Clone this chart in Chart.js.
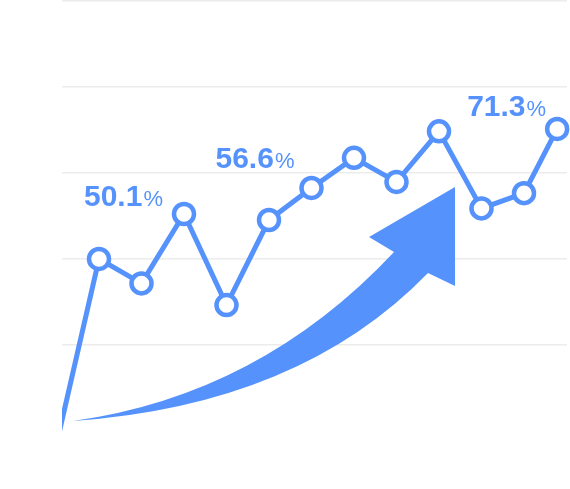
<!DOCTYPE html>
<html>
<head>
<meta charset="utf-8">
<script src="https://cdn.jsdelivr.net/npm/chart.js@4/dist/chart.umd.min.js"></script>
<style>
  html, body { margin: 0; padding: 0; background: #fff; }
  #wrap { width: 570px; height: 489px; }
</style>
</head>
<body>
<div id="wrap"><canvas id="myChart" width="570" height="489"></canvas></div>
<script>
// Growth trend line
const steps = [0, 1, 2, 3, 4, 5, 6, 7, 8, 9, 10, 11, 11.78];
const rates = [-7.3, 38.9, 32.8, 50.1, 27.4, 48.6, 56.6, 64.1, 58.1, 70.7, 51.5, 55.3, 71.3];
const calloutIndex = [3, 6, 12];
const gridTicks = [17.4, 38.9, 60.3, 81.8, 103.2];

const blue = '#5592fc';

// label placement relative to its point
const calloutOffsets = [[-100, -8], [-96, -20], [-90, -13]];

const arrowPlugin = {
    id: 'growthArrow',
    beforeDatasetsDraw(chart) {
        const c = chart.ctx;
        const a = chart.chartArea;
        const ox = a.left, oy = a.top;
        const p = (x, y) => [ox + x - 62, oy + y - 1];
        c.save();
        c.fillStyle = blue;
        c.beginPath();
        c.moveTo(...p(73, 421));
        c.quadraticCurveTo(...p(260, 395), ...p(394, 252));
        c.lineTo(...p(369, 237));
        c.lineTo(...p(455, 187));
        c.lineTo(...p(455, 286));
        c.lineTo(...p(428, 273));
        c.quadraticCurveTo(...p(300, 405), ...p(73, 421));
        c.closePath();
        c.fill();
        c.restore();
    }
};

const calloutPlugin = {
    id: 'callouts',
    afterDatasetsDraw(chart) {
        const c = chart.ctx;
        const meta = chart.getDatasetMeta(0);
        c.save();
        c.fillStyle = blue;
        c.textBaseline = 'alphabetic';
        calloutIndex.forEach((idx, i) => {
            const pt = meta.data[idx];
            const x = pt.x + calloutOffsets[i][0];
            const y = pt.y + calloutOffsets[i][1];
            const num = rates[idx].toFixed(1);
            c.font = 'bold 30px "Liberation Sans", Arial, sans-serif';
            c.fillText(num, x, y);
            const w = c.measureText(num).width;
            c.font = '22px "Liberation Sans", Arial, sans-serif';
            c.fillText('%', x + w + 1, y);
        });
        c.restore();
    }
};

function initializeChart() {
    const ctx = document.getElementById('myChart');
    new Chart(ctx, {
        type: 'line',
        data: {
            datasets: [{
                data: steps.map((s, i) => ({ x: s, y: rates[i] })),
                borderColor: blue,
                borderWidth: 5,
                tension: 0,
                fill: false,
                pointRadius: c => c.dataIndex === 0 ? 0 : 10,
                pointBorderWidth: 4.5,
                pointBackgroundColor: '#fff',
                pointBorderColor: blue,
                clip: { left: 0, top: 0, right: 6, bottom: 0 }
            }]
        },
        options: {
            responsive: false,
            animation: false,
            devicePixelRatio: 1,
            layout: { autoPadding: false, padding: { left: 62, right: 3, top: 1, bottom: 58 } },
            plugins: { legend: { display: false }, tooltip: { enabled: false } },
            scales: {
                x: {
                    type: 'linear',
                    display: false,
                    min: 0.1294,
                    max: 12.012
                },
                y: {
                    min: -4,
                    max: 103.2,
                    afterBuildTicks: axis => { axis.ticks = gridTicks.map(v => ({ value: v })); },
                    ticks: { display: false },
                    border: { display: false },
                    grid: { color: '#ececec', lineWidth: 1.5, drawTicks: false, tickLength: 0 }
                }
            }
        },
        plugins: [arrowPlugin, calloutPlugin]
    });
}

document.addEventListener('DOMContentLoaded', initializeChart);
</script>
</body>
</html>
